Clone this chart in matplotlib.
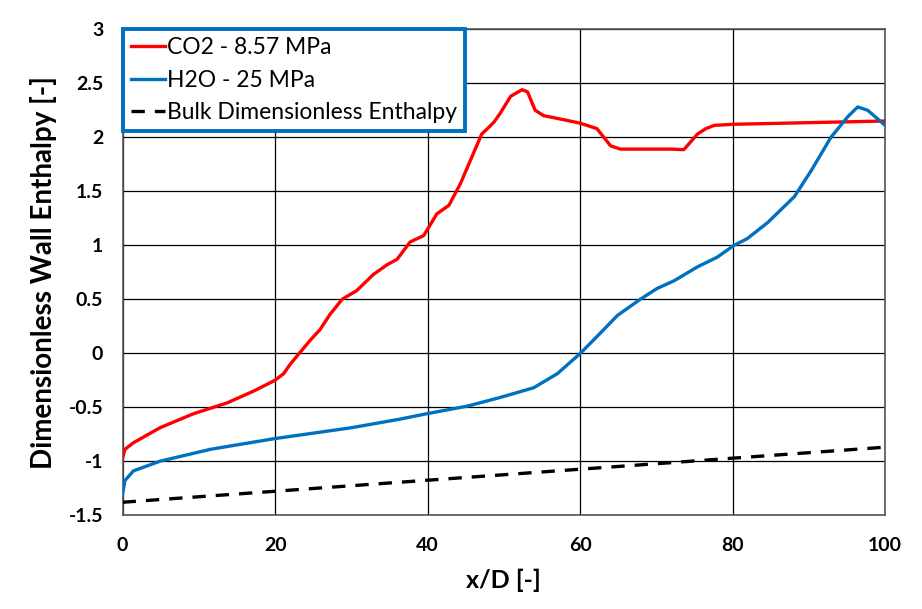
import matplotlib
matplotlib.use("Agg")
import matplotlib.pyplot as plt

# CO2 - 8.57 MPa wall enthalpy
co2_x = [0, 0.3, 1.4, 4.9, 9.3, 13.7, 17.2, 20.0, 21.1, 22.0, 23.3, 24.6, 25.9,
         27.2, 28.8, 30.7, 32.9, 34.7, 36.0, 37.7, 39.5, 41.2, 42.8, 44.3, 46.0,
         47.1, 48.0, 48.7, 49.5, 50.9, 52.4, 53.1, 54.1, 55.2, 58.0, 60.0, 62.2,
         63.1, 64.0, 65.3, 67.0, 71.9, 73.6, 75.4, 76.5, 77.6, 80.2, 90.0, 100]
co2_y = [-0.97, -0.89, -0.83, -0.69, -0.56, -0.46, -0.35, -0.25, -0.19, -0.10,
         0.01, 0.12, 0.22, 0.36, 0.50, 0.58, 0.73, 0.82, 0.87, 1.03, 1.09, 1.29,
         1.37, 1.57, 1.85, 2.03, 2.09, 2.14, 2.22, 2.38, 2.44, 2.42, 2.25, 2.20,
         2.16, 2.13, 2.08, 2.00, 1.92, 1.89, 1.89, 1.89, 1.885, 2.03, 2.08, 2.11,
         2.12, 2.135, 2.15]

# H2O - 25 MPa wall enthalpy
h2o_x = [0, 0.3, 1.4, 4.9, 11.5, 20.0, 22.0, 30.0, 36.4, 39.9, 45.2, 49.5, 53.9,
         57.0, 60.05, 62.7, 64.9, 67.9, 70.1, 72.3, 75.4, 78.0, 80.2, 81.9, 84.6,
         88.1, 90.3, 92.9, 95.1, 96.4, 97.7, 100]
h2o_y = [-1.30, -1.18, -1.09, -1.00, -0.89, -0.79, -0.77, -0.69, -0.61, -0.56,
         -0.49, -0.41, -0.32, -0.19, 0.0, 0.19, 0.35, 0.50, 0.60, 0.67, 0.80,
         0.89, 1.0, 1.06, 1.21, 1.45, 1.69, 2.0, 2.19, 2.28, 2.25, 2.11]

# Bulk dimensionless enthalpy (straight line)
bulk_x = [0, 100]
bulk_y = [-1.38, -0.87]

x_ticks = [0, 20, 40, 60, 80, 100]
y_ticks = [-1.5, -1, -0.5, 0, 0.5, 1, 1.5, 2, 2.5, 3]

plt.rcParams['font.family'] = ['Lato', 'DejaVu Sans']

fig = plt.figure(figsize=(9.22, 6.09), dpi=100)
ax = fig.add_axes([0.133, 0.154, 0.827, 0.798])

ax.plot(co2_x, co2_y, color='#FF0000', linewidth=2.4, label='CO2 - 8.57 MPa',
        zorder=3, solid_joinstyle='round')
ax.plot(h2o_x, h2o_y, color='#0070C0', linewidth=2.4, label='H2O - 25 MPa',
        zorder=3, solid_joinstyle='round')
ax.plot(bulk_x, bulk_y, color='black', linewidth=2.4, linestyle=(0, (4, 3)),
        label='Bulk Dimensionless Enthalpy', zorder=3)

ax.set_xlim(0, 100)
ax.set_ylim(-1.5, 3)
ax.set_xticks(x_ticks)
ax.set_yticks(y_ticks)
ax.set_xticklabels([str(t) for t in x_ticks], fontweight='bold', fontsize=14)
ax.set_yticklabels([f'{t:g}' for t in y_ticks], fontweight='bold', fontsize=14)
ax.tick_params(axis='x', length=0, pad=16)
ax.tick_params(axis='y', length=0, pad=14)
ax.grid(True, color='black', linewidth=0.9)
ax.set_axisbelow(True)
for s in ax.spines.values():
    s.set_color('#555555')
    s.set_linewidth(1.2)

ax.set_xlabel('x/D [-]', fontweight='bold', fontsize=18, labelpad=10)
ax.set_ylabel('Dimensionless Wall Enthalpy [-]', fontweight='bold', fontsize=20, labelpad=8)

leg = ax.legend(loc='upper left', fontsize=16.5, fancybox=False, borderaxespad=0,
                handlelength=1.5, handletextpad=0.1, labelspacing=0.5,
                borderpad=0.35, framealpha=1)
leg.get_frame().set_edgecolor('#0070C0')
leg.get_frame().set_linewidth(2.8)

fig.savefig('out.png', dpi=100)
